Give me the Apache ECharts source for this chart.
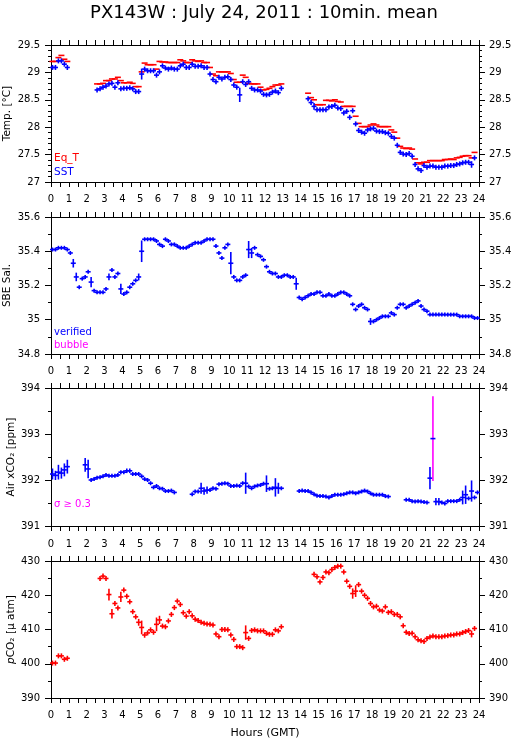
<!DOCTYPE html>
<html><head><meta charset="utf-8">
<script src="https://cdn.jsdelivr.net/npm/echarts@6/dist/echarts.min.js"></script>
<style>html,body{margin:0;padding:0;background:#fff}#c{width:515px;height:739px}</style>
</head><body><div id="c"></div>
<script>
// 10-minute mean slots: index k covers hour k/6 .. (k+1)/6 (144 slots)
const HOUR_LABELS = [0,1,2,3,4,5,6,7,8,9,10,11,12,13,14,15,16,17,18,19,20,21,22,23,24];
const N = null;

const EQ_T = [
29.20,29.20,29.27,29.31,29.24,29.20, N,N,N,N,N,N,N,N,N,
28.79,28.79,28.80,28.85,28.85,28.88,28.88,28.91,28.85,28.81,28.81,28.82,28.80,28.74,28.74,
29.01,29.17,29.14,29.14,29.14,29.06,29.20,29.19,29.19,29.18,29.18,29.18,29.18,29.23,29.21,29.18,29.18,29.23,29.21,29.20,29.21,29.18,29.18,
29.09,28.97,28.94,29.01,29.01,29.01,29.01,28.98,28.87,28.82,28.82,28.95,28.91,28.80,28.79,28.79,28.79,28.73,28.68,28.69,28.71,28.74,28.77,28.77,28.79,
N,N,N,N,N,N,N,N,
28.62,28.54,28.50,28.41,28.41,28.41,28.49,28.49,28.48,28.50,28.47,28.46,28.38,28.38,28.38,28.38,28.20,28.07,28.01,28.01,28.01,28.04,28.06,28.04,28.01,28.01,28.01,28.01,27.95,27.91,
27.80,27.65,27.62,27.61,27.62,27.60,27.42,27.35,27.33,27.36,27.36,27.39,27.39,27.39,27.39,27.39,27.41,27.41,27.42,27.41,27.44,27.45,27.47,27.48,27.48,27.44,27.54, N];

const SST = [
29.09,29.09,29.21,29.21,29.15,29.09, N,N,N,N,N,N,N,N,N,
28.68,28.70,28.73,28.75,28.79,28.80,28.73,28.81,28.70,28.71,28.71,28.72,28.70,28.65,28.65,
28.97,29.06,29.03,29.03,29.03,28.95,29.01,29.12,29.08,29.06,29.08,29.06,29.06,29.12,29.15,29.09,29.09,29.15,29.11,29.11,29.12,29.09,29.09,
28.97,28.87,28.83,28.91,28.88,28.91,28.92,28.87,28.77,28.73,28.59,28.83,28.78,28.83,28.71,28.68,28.68,28.66,28.60,28.59,28.60,28.64,28.66,28.63,28.71,
N,N,N,N,N,N,N,N,
28.52,28.45,28.38,28.32,28.32,28.32,28.32,28.37,28.38,28.40,28.35,28.34,28.26,28.29,28.18,28.30,28.06,27.94,27.91,27.89,27.95,27.97,27.98,27.93,27.92,27.92,27.90,27.89,27.83,27.80,
27.67,27.54,27.51,27.50,27.52,27.47,27.32,27.24,27.21,27.30,27.27,27.29,27.29,27.27,27.27,27.27,27.29,27.29,27.30,27.30,27.32,27.33,27.35,27.36,27.36,27.32,27.44, N];

const SST_SD = {2:0.03,3:0.03,19:0.03,20:0.03,22:0.03,30:0.1,35:0.03,53:0.04,63:0.13,64:0.04,88:0.06,100:0.03,101:0.03,102:0.04,116:0.03,141:0.06};

const SAL = [
35.41,35.41,35.42,35.42,35.42,35.41,35.39,35.33,35.25,35.19,35.24,35.25,35.28,35.22,35.17,35.16,35.16,35.16,35.18,35.25,
35.29,35.25,35.27,35.18,35.15,35.16,35.19,35.21,35.23,35.25,35.40,35.47,35.47,35.47,35.47,35.46,35.44,35.43,35.47,35.46,
35.44,35.44,35.43,35.42,35.42,35.42,35.43,35.44,35.45,35.45,35.45,35.46,35.47,35.47,35.47,35.43,35.39,35.36,35.42,35.44,
35.33,35.25,35.23,35.23,35.25,35.26,35.41,35.39,35.42,35.38,35.37,35.35,35.31,35.28,35.27,35.27,35.25,35.25,35.26,35.26,
35.25,35.25,35.21,35.13,35.12,35.13,35.14,35.15,35.15,35.16,35.16,35.14,35.14,35.15,35.14,35.14,35.15,35.16,35.16,35.15,
35.14,35.09,35.06,35.08,35.09,35.07,35.06,34.99,34.99,35.00,35.01,35.02,35.02,35.02,35.04,35.03,35.07,35.09,35.09,35.07,
35.08,35.09,35.10,35.11,35.08,35.06,35.05,35.03,35.03,35.03,35.03,35.03,35.03,35.03,35.03,35.03,35.03,35.02,35.02,35.02,
35.02,35.02,35.01,35.01];
const SAL_SD = {7:0.025,8:0.025,13:0.03,19:0.02,23:0.03,29:0.02,30:0.063,60:0.065,66:0.05,67:0.03,82:0.035,107:0.02};

const XCO2 = [
392.13,392.10,392.17,392.15,392.22,392.29, N,N,N,N,N,
392.33,392.24,392.00,392.02,392.05,392.06,392.08,392.11,392.09,392.09,392.09,392.11,392.17,392.17,392.20,392.20,392.13,392.13,392.13,392.08,392.02,392.00,391.93,391.84,391.87,391.82,391.81,391.76,391.76,391.77,391.73,
N,N,N,N,N,
391.69,391.75,391.75,391.82,391.76,391.78,391.78,391.82,391.81,391.91,391.92,391.93,391.92,391.87,391.87,391.88,391.87,391.93,391.93,391.86,391.82,391.86,391.88,391.89,391.92,391.92,391.81,391.82,391.84,391.82,391.82,
N,N,N,N,N,
391.76,391.77,391.76,391.76,391.73,391.69,391.66,391.65,391.65,391.64,391.62,391.65,391.68,391.68,391.68,391.69,391.71,391.73,391.73,391.71,391.73,391.75,391.77,391.75,391.71,391.68,391.68,391.68,391.68,391.65,391.64,
N,N,N,N,N,
391.57,391.57,391.54,391.53,391.54,391.53,391.52,391.51,392.04,392.90,391.53,391.53,391.51,391.49,391.54,391.54,391.54,391.54,391.57,391.62,391.68,391.60,391.76,391.62,391.73];
const XCO2_SD = {0:0.12,1:0.1,2:0.16,3:0.12,4:0.14,5:0.15,11:0.15,12:0.2,18:0.04,25:0.05,26:0.05,33:0.04,50:0.12,51:0.08,52:0.08,65:0.23,72:0.18,75:0.2,76:0.12,127:0.24,128:0.92,129:0.08,130:0.08,138:0.15,139:0.2,141:0.23};
const SIGMA_FLAG = 0.3;

const PCO2 = [
400.2,400.2,402.3,402.3,401.3,401.6, N,N,N,N,N,N,N,N,N,N,
424.9,425.6,424.9,420.2,414.6,417.6,416.3,419.5,421.5,419.7,418.1,415.2,413.7,412.1,410.6,408.4,409.0,409.9,409.2,411.5,
412.8,411.0,410.8,412.5,414.4,416.4,418.3,417.3,414.9,413.9,415.2,414.0,413.0,412.6,412.1,411.8,411.6,411.5,411.3,408.7,
407.9,410.0,410.0,409.9,408.4,407.1,405.0,405.0,404.7,409.1,407.4,409.7,409.9,409.6,409.6,409.6,408.9,408.6,408.6,409.9,
409.6,410.8,
N,N,N,N,N,N,N,N,N,N,
426.1,425.4,423.9,425.2,426.8,426.6,427.5,428.1,428.5,428.5,426.8,424.1,422.6,420.5,421.2,423.1,421.2,420.0,419.1,417.6,
416.6,416.8,415.7,415.4,416.6,415.0,415.2,414.4,414.4,413.7,411.1,409.2,408.8,408.9,407.9,407.0,406.7,406.5,407.4,407.8,
408.1,407.9,407.9,407.9,408.1,408.2,408.4,408.4,408.7,408.7,409.1,409.4,409.7,408.7,410.3, N];
const PCO2_SD = {19:1.7,20:1.4,23:1.5,29:1.0,30:2.0,31:0.8,35:2.0,36:1.2,65:2.1,101:1.5,102:1.7,141:1.0};

const FONT = '"DejaVu Sans", Verdana, sans-serif';
const PANELS = [
  {top:45, h:137, min:27, max:29.5, step:0.5, minor:5, name:'Temp. [°C]', gap:38, topLab:false, botLab:true},
  {top:217, h:137, min:34.8, max:35.6, step:0.2, minor:2, name:'SBE Sal.', gap:38, topLab:false, botLab:false},
  {top:388, h:138, min:391, max:394, step:1, minor:2, name:'Air xCO₂ [ppm]', gap:34, topLab:true, botLab:false},
  {top:561, h:137, min:390, max:430, step:10, minor:2, name:'{i|p}CO₂ [μ atm]', gap:34, topLab:true, botLab:true}
];

const chart = echarts.init(document.getElementById('c'), null, {renderer:'canvas'});
const grid = [], xAxis = [], yAxis = [], series = [];
const black = '#000';
PANELS.forEach((p, i) => {
  grid.push({left:51, right:36, top:p.top, height:p.h, containLabel:false, outerBoundsMode:'none'});
  ['bottom','top'].forEach(pos => {
    const showLab = pos === 'bottom' ? p.botLab : p.topLab;
    xAxis.push({
      gridIndex:i, type:'value', position:pos, min:0, max:24, interval:1,
      axisLine:{show:true, onZero:false, lineStyle:{color:black, width:1}},
      axisTick:{show:true, length:5, lineStyle:{color:black}},
      minorTick:{show:true, splitNumber:2, length:5, lineStyle:{color:black}},
      splitLine:{show:false}, minorSplitLine:{show:false},
      axisLabel:{show:showLab, color:black, fontSize:10, fontFamily:FONT, margin:12,
        formatter: v => HOUR_LABELS.indexOf(v) >= 0 ? String(v) : ''},
      name: (i === 3 && pos === 'bottom') ? 'Hours (GMT)' : '',
      nameLocation:'middle', nameGap:30, nameMoveOverlap:false,
      nameTextStyle:{color:black, fontSize:11, fontFamily:FONT}
    });
  });
  ['left','right'].forEach(pos => {
    yAxis.push({
      gridIndex:i, type:'value', position:pos, min:p.min, max:p.max, interval:p.step,
      axisLine:{show:true, onZero:false, lineStyle:{color:black, width:1}},
      axisTick:{show:true, length:6, lineStyle:{color:black}},
      minorTick:{show:true, splitNumber:p.minor, length:3, lineStyle:{color:black}},
      splitLine:{show:false}, minorSplitLine:{show:false},
      axisLabel:{color:black, fontSize:10, fontFamily:FONT, margin: pos === 'left' ? 11 : 10},
      name: pos === 'left' ? p.name : '', nameLocation:'middle', nameGap:p.gap, nameRotate:90,
      nameMoveOverlap:false,
      nameTextStyle:{color:black, fontSize:10.5, fontFamily:FONT, rich:{i:{fontStyle:'italic', fontSize:10.5, fontFamily:FONT, color:black}}}
    });
  });
});

function crosses(panel, values, sd, color, opts) {
  const data = [];
  values.forEach((v, k) => { if (v != null) data.push([(k + 0.5) / 6, v, (sd && sd[k]) || 0]); });
  return {
    type:'custom', xAxisIndex: panel * 2, yAxisIndex: panel * 2, data, silent:true,
    renderItem(params, api) {
      const x = api.value(0), y = api.value(1), s = api.value(2);
      const c = api.coord([x, y]);
      const kids = [];
      if (opts.cross) {
        let t = api.coord([x, y + s])[1], b = api.coord([x, y - s])[1];
        t = Math.min(t, c[1] - opts.minHalf); b = Math.max(b, c[1] + opts.minHalf);
        const vc = (opts.flag && s >= opts.flag) ? opts.flagColor : color;
        kids.push({type:'line', shape:{x1:c[0], y1:t, x2:c[0], y2:b}, style:{stroke:vc, lineWidth:opts.lw}});
      }
      kids.push({type:'line', shape:{x1:c[0] - opts.hw, y1:c[1], x2:c[0] + opts.hw, y2:c[1]}, style:{stroke:color, lineWidth:opts.lw}});
      return {type:'group', children:kids};
    }
  };
}
const RED = '#ff0000', BLUE = '#0000ff', MAG = '#ff00ff';
series.push(crosses(0, EQ_T, null, RED, {cross:false, hw:3, lw:1.6}));
series.push(crosses(0, SST, SST_SD, BLUE, {cross:true, hw:2.5, minHalf:2.5, lw:1.6}));
series.push(crosses(1, SAL, SAL_SD, BLUE, {cross:true, hw:2.5, minHalf:2, lw:1.6}));
series.push(crosses(2, XCO2, XCO2_SD, BLUE, {cross:true, hw:2.5, minHalf:2, lw:1.6, flag:SIGMA_FLAG, flagColor:MAG}));
series.push(crosses(3, PCO2, PCO2_SD, RED, {cross:true, hw:2.5, minHalf:2.5, lw:1.6}));

const txt = (x, y, text, fill, size, align) => ({type:'text', x, y, z:100, style:{text, fill, font:`${size}px ${FONT}`, textAlign:align || 'left', textVerticalAlign:'middle'}});
chart.setOption({
  animation:false,
  backgroundColor:'#fff',
  grid, xAxis, yAxis, series,
  graphic:[
    txt(264, 13, 'PX143W : July 24, 2011 : 10min. mean', black, 18, 'center'),
    txt(54, 158, 'Eq_T', RED, 10.5),
    txt(54, 172, 'SST', BLUE, 10.5),
    txt(54, 332, 'verified', BLUE, 10),
    txt(54, 345, 'bubble', MAG, 10),
    txt(54, 504, 'σ ≥ 0.3', MAG, 10)
  ]
});
</script></body></html>
